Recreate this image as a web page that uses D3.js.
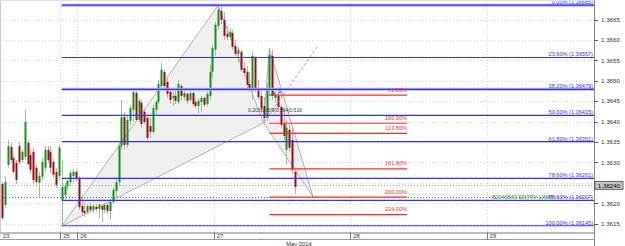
<!DOCTYPE html>
<html><head><meta charset="utf-8">
<script src="https://cdn.jsdelivr.net/npm/d3@7"></script>
<style>
body{margin:0;background:#fff}
svg{display:block}
text{font-family:"Liberation Sans",Arial,sans-serif}
</style>
</head><body>
<svg id="c" width="625" height="246"></svg>
<script>
// ---- DATA (M30 candles, bar index 0 = first visible bar) ----
const open = [1.36247,1.36196,1.36294,1.36338,1.36311,1.36299,1.36340,1.36306,1.36314,1.36348,1.36318,1.36326,1.36287,1.36250,1.36265,1.36287,1.36331,1.36326,1.36301,1.36277,1.36267,
 1.36208,1.36220,1.36242,1.36252,1.36267,1.36277,
 1.36262,1.36193,1.36181,1.36179,1.36193,1.36184,1.36191,1.36186,1.36193,1.36184,1.36196,1.36181,1.36203,1.36230,1.36252,1.36340,1.36411,1.36343,1.36402,1.36429,1.36470,1.36404,1.36446,1.36424,1.36409,1.36389,1.36375,1.36429,1.36448,1.36487,1.36522,1.36497,1.36473,1.36458,1.36463,1.36448,1.36487,1.36460,1.36468,1.36453,1.36470,1.36448,1.36438,1.36448,1.36458,1.36443,1.36463,1.36522,1.36576,1.36634,
 1.36671,1.36649,1.36615,1.36607,1.36617,1.36585,1.36566,1.36571,1.36531,1.36522,1.36492,1.36478,1.36556,1.36482,1.36463,1.36438,1.36409,1.36478,1.36561,1.36458,1.36463,1.36436,1.36394,1.36331,1.36380,1.36355,1.36277];
const high = [1.36252,1.36265,1.36355,1.36348,1.36318,1.36306,1.36350,1.36331,1.36429,1.36355,1.36331,1.36336,1.36294,1.36277,1.36311,1.36340,1.36340,1.36340,1.36311,1.36287,1.36343,
 1.36306,1.36250,1.36262,1.36282,1.36284,1.36282,
 1.36267,1.36220,1.36201,1.36198,1.36201,1.36198,1.36198,1.36201,1.36198,1.36201,1.36201,1.36211,1.36238,1.36262,1.36348,1.36453,1.36424,1.36416,1.36441,1.36482,1.36478,1.36458,1.36453,1.36433,1.36414,1.36409,1.36441,1.36453,1.36502,1.36544,1.36527,1.36507,1.36482,1.36473,1.36478,1.36502,1.36492,1.36478,1.36473,1.36478,1.36473,1.36456,1.36456,1.36463,1.36463,1.36473,1.36539,1.36588,1.36644,1.36685,
 1.36683,1.36669,1.36634,1.36629,1.36625,1.36600,1.36583,1.36576,1.36546,1.36536,1.36522,1.36571,1.36561,1.36502,1.36482,1.36460,1.36495,1.36580,1.36576,1.36473,1.36473,1.36441,1.36429,1.36404,1.36392,1.36385,1.36282];
const low = [1.36159,1.36189,1.36287,1.36299,1.36272,1.36247,1.36294,1.36299,1.36306,1.36292,1.36272,1.36250,1.36245,1.36213,1.36257,1.36277,1.36299,1.36274,1.36262,1.36238,1.36257,
 1.36144,1.36211,1.36233,1.36242,1.36250,1.36252,
 1.36184,1.36171,1.36167,1.36174,1.36179,1.36176,1.36179,1.36164,1.36154,1.36176,1.36174,1.36159,1.36198,1.36213,1.36242,1.36331,1.36331,1.36336,1.36389,1.36399,1.36399,1.36399,1.36385,1.36394,1.36355,1.36360,1.36370,1.36419,1.36443,1.36482,1.36482,1.36458,1.36443,1.36438,1.36443,1.36443,1.36453,1.36453,1.36443,1.36448,1.36438,1.36433,1.36421,1.36424,1.36436,1.36438,1.36453,1.36507,1.36561,1.36625,
 1.36639,1.36600,1.36600,1.36600,1.36576,1.36561,1.36544,1.36522,1.36512,1.36482,1.36473,1.36453,1.36473,1.36453,1.36424,1.36397,1.36402,1.36465,1.36453,1.36446,1.36429,1.36385,1.36355,1.36294,1.36326,1.36270,1.36223];
const close = [1.36164,1.36252,1.36340,1.36306,1.36277,1.36257,1.36301,1.36326,1.36399,1.36296,1.36282,1.36257,1.36252,1.36267,1.36301,1.36331,1.36306,1.36287,1.36270,1.36245,1.36336,
 1.36240,1.36242,1.36255,1.36274,1.36277,1.36262,
 1.36191,1.36179,1.36176,1.36193,1.36184,1.36193,1.36186,1.36196,1.36184,1.36196,1.36181,1.36203,1.36233,1.36252,1.36340,1.36411,1.36343,1.36404,1.36433,1.36473,1.36404,1.36451,1.36394,1.36399,1.36360,1.36375,1.36433,1.36448,1.36492,1.36527,1.36487,1.36468,1.36453,1.36463,1.36451,1.36492,1.36463,1.36470,1.36451,1.36470,1.36443,1.36438,1.36451,1.36458,1.36441,1.36468,1.36522,1.36580,1.36637,1.36674,
 1.36649,1.36610,1.36607,1.36620,1.36583,1.36566,1.36576,1.36527,1.36519,1.36490,1.36482,1.36561,1.36478,1.36460,1.36433,1.36409,1.36482,1.36563,1.36463,1.36465,1.36436,1.36392,1.36365,1.36385,1.36336,1.36282,1.36240];

const priceTicks = [1.3615,1.3620,1.3625,1.3630,1.3635,1.3640,1.3645,1.3650,1.3655,1.3660,1.3665];
const priceTickLabels = [1.3615,1.3620,1.3630,1.3635,1.3640,1.3645,1.3650,1.3655,1.3660,1.3665];
const daySepBars = [21,27,75,123,171];
const dayLabels  = ["25","26","27","28","29"];
const firstDayLabel = "23";
const monthLabel = "May 2014";

const fibNames  = ["0.00%","23.60%","38.20%","50.00%","61.80%","78.60%","88.60%","100.00%"];
const fibPrices = [1.36685,1.36557,1.36479,1.36415,1.36351,1.36261,1.36207,1.36145];
const fibHalo   = [true,false,true,false,false,false,false,false];

const projNames  = ["61.80%","100.00%","113.80%","161.80%","200.00%","224.00%"];
const projPrices = [1.36465,1.36396,1.36371,1.36284,1.36215,1.36172];

// harmonic pattern points X, A, B, C, D (bar index, price)
const patBars   = [21,76,92,94,109.4];
const patPrices = [1.36144,1.36685,1.36397,1.36580,1.36215];
const dashEndBar = 111, dashEndPrice = 1.36585;
const projEndBar = 142.4;

const bidPrice = 1.36244, bidLabel = "1.36240";
const entryPrice = 1.36215, entryText = "82046843 ENTRY LIMIT";
const ratioText = "0.203|0.909|0.964|0.516";
const ratioPrice = 1.36424;

// ---- DRAW ----
const svg = d3.select("#c");
const plotR = 594, plotB = 232.5;
const x = d3.scaleLinear().domain([0,208]).range([2,593.6]);
const y = d3.scaleLinear().domain([1.3615,1.3665]).range([223.7,19.5]);
const py = p => Math.round(y(p))+0.5;
const BLUE = "#3030ff", RED = "#ff2a2a";

svg.append("defs").append("clipPath").attr("id","clip")
  .append("rect").attr("x",0).attr("y",0).attr("width",plotR).attr("height",plotB);

// grid
const g = svg.append("g").attr("clip-path","url(#clip)");
g.selectAll(".hg").data(priceTicks).enter().append("line")
  .attr("x1",0).attr("x2",plotR).attr("y1",py).attr("y2",py)
  .attr("stroke","#d4d4d4").attr("stroke-dasharray","1,2");
g.selectAll(".vg").data(daySepBars).enter().append("line")
  .attr("x1",d=>Math.round(x(d)-1.4)+0.5).attr("x2",d=>Math.round(x(d)-1.4)+0.5).attr("y1",0).attr("y2",plotB)
  .attr("stroke","#d4d4d4").attr("stroke-dasharray","1,2");

// harmonic triangles
const P = patBars.map((b,i)=>[x(b),y(patPrices[i])]);
[[0,1,2],[2,3,4]].forEach(t=>{
  g.append("polygon").attr("points",t.map(k=>P[k].join(",")).join(" "))
   .attr("fill","#efefef").attr("stroke","#a8a8a8").attr("stroke-width",0.9);
});

// bid & entry lines
g.append("line").attr("x1",0).attr("x2",plotR).attr("y1",py(bidPrice)).attr("y2",py(bidPrice))
  .attr("stroke","#a0a0a0").attr("stroke-dasharray","1,2");
g.append("line").attr("x1",0).attr("x2",plotR).attr("y1",py(entryPrice)).attr("y2",py(entryPrice))
  .attr("stroke","#2e8b2e").attr("stroke-dasharray","1,2");

// candles
const idx = d3.range(close.length);
const up = i => close[i] >= open[i];
g.selectAll(".wick").data(idx).enter().append("line")
  .attr("x1",i=>Math.round(x(i))+0.5).attr("x2",i=>Math.round(x(i))+0.5)
  .attr("y1",i=>y(high[i])).attr("y2",i=>y(low[i]))
  .attr("stroke",i=>up(i)?"#8cc98c":"#d9a2a2").attr("stroke-width",1);
g.selectAll(".body").data(idx).enter().append("rect")
  .attr("x",i=>Math.round(x(i))-0.5).attr("width",2)
  .attr("y",i=>y(Math.max(open[i],close[i])))
  .attr("height",i=>Math.max(1,Math.abs(y(open[i])-y(close[i]))))
  .attr("fill",i=>up(i)?"#16901a":"#8c1414");

// dashed projection line from B
g.append("line")
  .attr("x1",P[2][0]).attr("y1",P[2][1]).attr("x2",x(dashEndBar)).attr("y2",y(dashEndPrice))
  .attr("stroke","#a0a0a0").attr("stroke-dasharray","3,2");

// fib lines (blue)
fibPrices.forEach((p,i)=>{
  if(fibHalo[i]) g.append("line").attr("x1",x(patBars[0])).attr("x2",plotR).attr("y1",y(p)).attr("y2",y(p))
     .attr("stroke","#b4b4f8").attr("stroke-width",3);
  g.append("line").attr("x1",x(patBars[0])).attr("x2",plotR).attr("y1",y(p)).attr("y2",y(p))
     .attr("stroke",BLUE).attr("stroke-width",1.2);
});
// projection lines (red)
projPrices.forEach(p=>{
  g.append("line").attr("x1",x(patBars[3])).attr("x2",x(projEndBar)).attr("y1",y(p)).attr("y2",y(p))
   .attr("stroke",RED).attr("stroke-width",1.2);
});

// texts in plot
const tg = svg.append("g").attr("clip-path","url(#clip)");
tg.selectAll(".fl").data(fibPrices).enter().append("text")
  .attr("x",593).attr("y",d=>y(d)-1).attr("text-anchor","end")
  .attr("font-size",5.6).attr("fill",BLUE)
  .text((d,i)=>fibNames[i]+" ("+d.toFixed(5)+")");
tg.selectAll(".pl").data(projPrices).enter().append("text")
  .attr("x",x(projEndBar)).attr("y",d=>y(d)-3.5).attr("text-anchor","end")
  .attr("font-size",5.6).attr("fill",RED)
  .text((d,i)=>projNames[i]);
tg.append("text").attr("x",492).attr("y",y(entryPrice)+1.8).attr("font-size",5.6).attr("fill","#2e8b2e").text(entryText);
tg.append("text").attr("x",275).attr("y",y(ratioPrice)).attr("text-anchor","middle")
  .attr("font-size",5).attr("fill","#333").text(ratioText);
// small marker
const mx = x(patBars[3])+4, my = y(1.36472);
tg.append("path").attr("d",`M${mx-2},${my+2}L${mx+2},${my+2}L${mx},${my-1.5}Z`).attr("fill","#16901a");
tg.append("text").attr("x",mx+5).attr("y",my+2).attr("font-size",5).attr("fill","#444").text("A");

// frame & axes
svg.append("line").attr("x1",0.5).attr("x2",0.5).attr("y1",0).attr("y2",plotB).attr("stroke","#c8c8c8");
svg.append("line").attr("x1",0).attr("x2",plotR).attr("y1",0.5).attr("y2",0.5).attr("stroke","#e0e0e0");
svg.append("line").attr("x1",plotR+0.5).attr("x2",plotR+0.5).attr("y1",0).attr("y2",246).attr("stroke","#888");
svg.append("line").attr("x1",0).attr("x2",plotR).attr("y1",plotB+0.5).attr("y2",plotB+0.5).attr("stroke","#777");
svg.append("line").attr("x1",0).attr("x2",plotR).attr("y1",239.5).attr("y2",239.5).attr("stroke","#999");

// price axis
const ax = svg.append("g");
ax.selectAll(".tk").data(priceTicks).enter().append("line")
  .attr("x1",plotR).attr("x2",plotR+4).attr("y1",py).attr("y2",py)
  .attr("stroke","#555");
ax.selectAll(".tl").data(priceTickLabels).enter().append("text")
  .attr("x",601).attr("y",d=>y(d)+2.3).attr("font-size",6.2).attr("fill","#333")
  .text(d=>d.toFixed(4));
// bid box
const by = y(bidPrice);
ax.append("rect").attr("x",595).attr("y",by-4).attr("width",28).attr("height",8)
  .attr("fill","#c4c4c4").attr("stroke","#444").attr("stroke-width",0.8);
ax.append("text").attr("x",609).attr("y",by+2.3).attr("text-anchor","middle").attr("font-size",6.2).attr("fill","#000").text(bidLabel);

// time axis
const ta = svg.append("g");
ta.selectAll(".ts").data(daySepBars).enter().append("line")
  .attr("x1",d=>Math.round(x(d)-1.4)+0.5).attr("x2",d=>Math.round(x(d)-1.4)+0.5)
  .attr("y1",plotB).attr("y2",239.5).attr("stroke","#777");
ta.selectAll(".tt").data(daySepBars).enter().append("text")
  .attr("x",d=>x(d)+1.5).attr("y",238).attr("font-size",5.8).attr("fill","#333")
  .text((d,i)=>dayLabels[i]);
ta.append("text").attr("x",3).attr("y",238).attr("font-size",5.8).attr("fill","#333").text(firstDayLabel);
ta.append("text").attr("x",299).attr("y",245.5).attr("text-anchor","middle").attr("font-size",5.8).attr("fill","#333").text(monthLabel);
</script>
</body></html>
